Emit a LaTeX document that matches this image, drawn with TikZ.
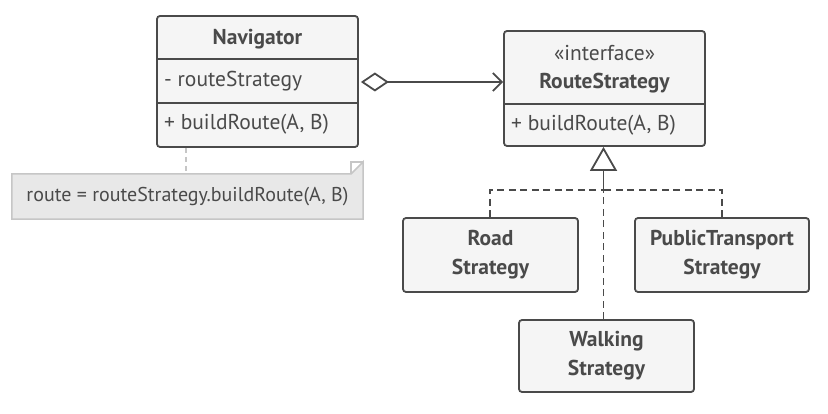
\documentclass[tikz,border=0pt]{standalone}
\usepackage{fontspec}
\setmainfont{PT Sans}
\usetikzlibrary{arrows.meta}
\definecolor{ink}{HTML}{4A4A4A}
\definecolor{boxfill}{HTML}{F5F5F5}
\definecolor{notefill}{HTML}{E8E8E8}
\definecolor{noteline}{HTML}{C6C6C6}
\tikzset{
  umlbox/.style={draw=ink, fill=boxfill, line width=1.8pt, rounded corners=3pt, inner sep=0pt},
  txt/.style={text=ink, inner sep=0pt, font=\fontsize{21.5}{29}\selectfont},
  bold/.style={txt, font=\fontsize{21.5}{29}\selectfont\bfseries, align=center},
  notetxt/.style={text=ink, inner sep=0pt, font=\fontsize{20}{24}\selectfont},
  divider/.style={draw=ink, line width=1.8pt},
  realize/.style={draw=ink, line width=1.8pt, dash pattern=on 7pt off 4.5pt},
  assoc/.style={draw=ink, line width=1.8pt},
  notelink/.style={draw=noteline, line width=1.8pt, dash pattern=on 5pt off 4pt}
}
\begin{document}
\begin{tikzpicture}[x=1pt, y=-1pt]
\useasboundingbox (0,0) rectangle (828,414);
% Navigator
\node[umlbox, minimum width=201pt, minimum height=131pt] (nav) at (257.5,81.5) {};
\draw[divider] (157,59) -- (358,59);
\draw[divider] (157,103) -- (358,103);
\node[bold] (navt) at (257.5,39) {Navigator};
\node[txt, anchor=west] (nava) at (164,81) {- routeStrategy};
\node[txt, anchor=west] (navm) at (164,124) {+ buildRoute(A, B)};
% RouteStrategy
\node[umlbox, minimum width=201pt, minimum height=115pt] (rs) at (604.5,88.5) {};
\draw[divider] (504,104) -- (705,104);
\node[txt] (rsst) at (604.5,53) {«interface»};
\node[bold] (rst) at (604.5,83) {RouteStrategy};
\node[txt, anchor=west] (rsm) at (511,125) {+ buildRoute(A, B)};
% Subclasses
\node[umlbox, minimum width=175pt, minimum height=74pt] (road) at (490.5,255) {};
\node[bold] (roadt) at (road.center) {Road\\Strategy};
\node[umlbox, minimum width=174pt, minimum height=74pt] (pt) at (722,255) {};
\node[bold] (ptt) at (pt.center) {PublicTransport\\Strategy};
\node[umlbox, minimum width=175pt, minimum height=72pt] (walk) at (606.5,356) {};
\node[bold] (walkt) at (walk.center) {Walking\\Strategy};
% Note
\node[minimum width=351pt, minimum height=45pt, inner sep=0pt] (note) at (187.5,196.5) {};
\fill[notefill] (note.north west) -- ([xshift=-12pt]note.north east) -- ([yshift=12pt]note.north east) -- (note.south east) -- (note.south west) -- cycle;
\draw[noteline, line width=1.5pt] (note.north west) -- ([xshift=-12pt]note.north east) -- ([yshift=12pt]note.north east) -- (note.south east) -- (note.south west) -- cycle;
\draw[noteline, line width=1.5pt] ([xshift=-12pt]note.north east) |- ([yshift=12pt]note.north east);
\node[notetxt] (notet) at (note.center) {route = routeStrategy.buildRoute(A, B)};
\draw[notelink] (nav.south -| 186,0) -- (note.north -| 186,0);
% Association
\draw[assoc, {Diamond[open, length=28pt, width=19pt, line width=1.8pt]}-{Straight Barb[length=9pt, width=18pt, line width=1.8pt]}]
  ([xshift=2pt]nav.east |- 0,82) -- (rs.west |- 0,82);
% Realization
\coordinate (junc) at (603.5,190);
\draw[realize] (road.north -| 490,0) |- (junc);
\draw[realize] (pt.north -| 722,0) |- (junc);
\draw[realize] (walk.north -| 603.5,0) -- (junc);
\draw[draw=ink, line width=1.8pt, -{Triangle[open, length=24pt, width=27pt, line width=1.8pt]}] (junc) -- (rs.south -| 603.5,0);
\end{tikzpicture}
\end{document}
